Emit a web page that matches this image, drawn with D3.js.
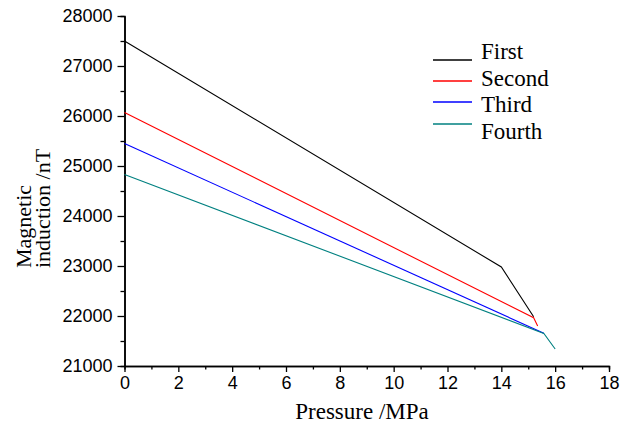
<!DOCTYPE html>
<html>
<head>
<meta charset="utf-8">
<script src="https://cdn.jsdelivr.net/npm/d3@7"></script>
<style>
  body { margin: 0; background: #fff; }
  svg { display: block; }
  .tick text { font-family: "Liberation Sans", Arial, sans-serif; font-size: 18px; fill: #000; }
  .ttl { font-family: "Liberation Serif", "Times New Roman", Tinos, "DejaVu Serif", serif; font-size: 23px; fill: #000; }
  .ytl { font-size: 22px; }
</style>
</head>
<body>
<svg id="chart" width="636" height="434"></svg>
<script>
// series: [pressure MPa, induction nT]
var seriesNames = ["First", "Second", "Third", "Fourth"];
var seriesColors = ["#000000", "#ff0000", "#0000ff", "#008080"];
var first  = [[0, 27500], [14, 22980], [15.2, 21985]];
var second = [[0, 26070], [15.2, 21965], [15.35, 21800]];
var third  = [[0, 25450], [15.58, 21655]];
var fourth = [[0, 24830], [15.58, 21650], [16, 21340]];
var xMajor = [0, 2, 4, 6, 8, 10, 12, 14, 16, 18];
var xMinor = [1, 3, 5, 7, 9, 11, 13, 15, 17];
var yMajor = [21000, 22000, 23000, 24000, 25000, 26000, 27000, 28000];
var yMinor = [21500, 22500, 23500, 24500, 25500, 26500, 27500];

var svg = d3.select("#chart");
var x = d3.scaleLinear().domain([0, 18]).range([124.5, 609]);
var y = d3.scaleLinear().domain([21000, 28000]).range([366, 16]);

function styleAxis(g) {
  g.select(".domain").attr("stroke", "#000").attr("stroke-width", 1.5);
  g.selectAll(".tick line").attr("stroke", "#000").attr("stroke-width", 1.3);
}

// minor ticks first
svg.append("g").attr("transform", "translate(0,366)")
  .call(d3.axisBottom(x).tickValues(xMinor).tickSize(3.5).tickFormat(""))
  .call(styleAxis);
svg.append("g").attr("transform", "translate(124.5,0)")
  .call(d3.axisLeft(y).tickValues(yMinor).tickSize(4).tickFormat(""))
  .call(styleAxis);

svg.append("g").attr("transform", "translate(0,366)")
  .call(d3.axisBottom(x).tickValues(xMajor).tickSize(6).tickSizeOuter(0).tickPadding(4))
  .call(styleAxis);
svg.append("g").attr("transform", "translate(124.5,0)")
  .call(d3.axisLeft(y).tickValues(yMajor).tickSize(7).tickSizeOuter(0).tickPadding(5).tickFormat(d3.format("d")))
  .call(styleAxis);

var line = d3.line().x(function(d) { return x(d[0]); }).y(function(d) { return y(d[1]); });
var allSeries = [first, second, third, fourth];
allSeries.forEach(function(s, i) {
  svg.append("path").datum(s)
    .attr("d", line)
    .attr("fill", "none")
    .attr("stroke", seriesColors[i])
    .attr("stroke-width", 1.1);
});

// legend
var legLineY = [60, 81, 102, 124];
var legTextY = [59, 85.5, 111.5, 139];
seriesNames.forEach(function(n, i) {
  svg.append("line")
    .attr("x1", 433).attr("x2", 472)
    .attr("y1", legLineY[i]).attr("y2", legLineY[i])
    .attr("stroke", seriesColors[i]).attr("stroke-width", 1.3);
  svg.append("text").attr("class", "ttl")
    .attr("x", 481).attr("y", legTextY[i])
    .text(n);
});

// axis titles
svg.append("text").attr("class", "ttl")
  .attr("x", 362).attr("y", 419)
  .attr("text-anchor", "middle")
  .text("Pressure /MPa");
svg.append("text").attr("class", "ttl ytl")
  .attr("transform", "translate(31,268) rotate(-90)")
  .text("Magnetic");
svg.append("text").attr("class", "ttl ytl")
  .attr("transform", "translate(50,268) rotate(-90)")
  .text("induction /nT");
</script>
</body>
</html>
